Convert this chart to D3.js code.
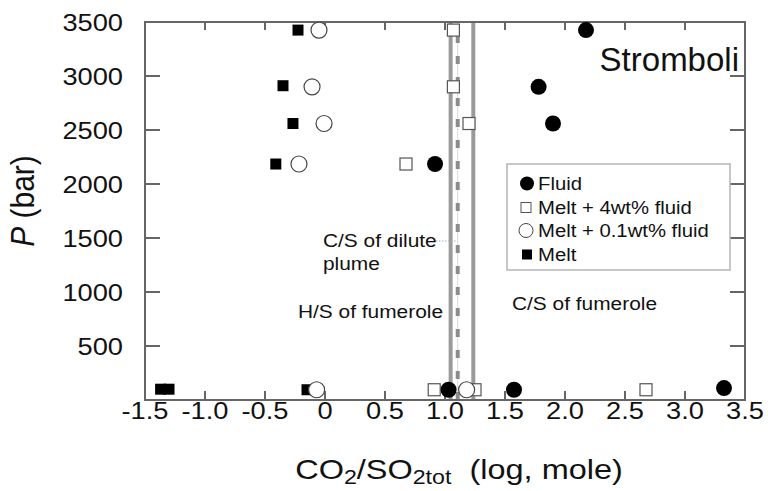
<!DOCTYPE html>
<head>
    <style>
        body { margin: 0; background: #fff; }
        svg { display: block; background: #fff; }
        text { font-family: "Liberation Sans", Arial, sans-serif; fill: #111; }
    </style>
</head>
<body>
    <script src="https://d3js.org/d3.v7.min.js"></script>
    <script>
        // data: log(CO2/SO2tot) vs pressure
        var fluidX  = [2.175, 1.78, 1.9, 0.917, 1.03, 1.575, 3.325];
        var fluidP  = [3425, 2900, 2560, 2185, 95, 95, 110];
        var melt4X  = [1.07, 1.07, 1.2, 0.675, 0.91, 1.25, 2.675];
        var melt4P  = [3425, 2900, 2560, 2185, 95, 95, 95];
        var melt01X = [-0.05, -0.108, -0.008, -0.217, -0.07, 1.18];
        var melt01P = [3425, 2900, 2560, 2185, 95, 95];
        var meltX   = [-0.225, -0.35, -0.267, -0.41, -1.37, -1.30, -0.15];
        var meltP   = [3425, 2910, 2560, 2185, 100, 100, 95];

        var xTicks = [-1.5, -1.0, -0.5, 0, 0.5, 1.0, 1.5, 2.0, 2.5, 3.0, 3.5];
        var xTickLabels = ['-1.5', '-1.0', '-0.5', '0', '0.5', '1.0', '1.5', '2.0', '2.5', '3.0', '3.5'];
        var yTicks = [500, 1000, 1500, 2000, 2500, 3000, 3500];

        // reference lines: H/S fumerole, C/S dilute plume (dashed), C/S fumerole
        var refLines = [1.047, 1.106, 1.236];
        var refDashed = [false, true, false];

        var legendNames = ['Fluid', 'Melt + 4wt% fluid', 'Melt + 0.1wt% fluid', 'Melt'];

        var W = 768, H = 491;
        var x0 = 145, x1 = 745, y0 = 400, y1 = 22;
        var sx = 1.16; // the figure's type is a bit wide

        var svg = d3.select('body').append('svg')
                    .attr('width', W).attr('height', H);

        var x = d3.scaleLinear().domain([-1.5, 3.5]).range([x0, x1]);
        var y = d3.scaleLinear().domain([0, 3500]).range([y0, y1]);

        function label(g, tx, ty, str, size, anchor) {
            return g.append('text')
                    .attr('transform', 'translate(' + tx + ',' + ty + ') scale(' + sx + ',1)')
                    .attr('font-size', size)
                    .attr('text-anchor', anchor || 'start')
                    .text(str);
        }

        // reference lines
        refLines.forEach(function(v, i) {
            if (refDashed[i]) {
                svg.append('line')
                   .attr('x1', x(v)).attr('x2', x(v))
                   .attr('y1', y0).attr('y2', y1)
                   .attr('stroke', '#d8d8d8').attr('stroke-width', 1);
            }
            svg.append('line')
               .attr('x1', x(v)).attr('x2', x(v))
               .attr('y1', y0).attr('y2', y1)
               .attr('stroke', refDashed[i] ? '#8c8c8c' : '#9a9a9a')
               .attr('stroke-width', 4)
               .attr('stroke-dasharray', refDashed[i] ? '8,13' : null);
        });

        // ticks, inside the frame
        var tickCol = '#333';
        svg.selectAll('.xtb').data(xTicks.slice(1, -1)).enter().append('line')
           .attr('x1', d => x(d)).attr('x2', d => x(d))
           .attr('y1', y0).attr('y2', y0 - 9)
           .attr('stroke', tickCol).attr('stroke-width', 1.5);
        svg.selectAll('.xtt').data(xTicks.slice(1, -1)).enter().append('line')
           .attr('x1', d => x(d)).attr('x2', d => x(d))
           .attr('y1', y1).attr('y2', y1 + 8)
           .attr('stroke', tickCol).attr('stroke-width', 1.5);
        svg.selectAll('.ytl').data(yTicks.slice(0, -1)).enter().append('line')
           .attr('x1', x0).attr('x2', x0 + 15)
           .attr('y1', d => y(d)).attr('y2', d => y(d))
           .attr('stroke', tickCol).attr('stroke-width', 1.5);
        svg.selectAll('.ytr').data(yTicks.slice(0, -1)).enter().append('line')
           .attr('x1', x1).attr('x2', x1 - 15)
           .attr('y1', d => y(d)).attr('y2', d => y(d))
           .attr('stroke', tickCol).attr('stroke-width', 1.5);

        // frame
        svg.append('rect')
           .attr('x', x0).attr('y', y1)
           .attr('width', x1 - x0).attr('height', y0 - y1)
           .attr('fill', 'none').attr('stroke', '#666').attr('stroke-width', 2);

        // tick labels
        yTicks.forEach(function(d) {
            label(svg, 123, y(d) + 8.5, d, 23.5, 'end');
        });
        xTicks.forEach(function(d, i) {
            label(svg, x(d), 419, xTickLabels[i], 23.5, 'middle');
        });

        // markers
        var pts = function(xs, ps) { return xs.map((v, i) => ({x: v, p: ps[i]})); };

        svg.selectAll('.melt').data(pts(meltX, meltP)).enter().append('rect')
           .attr('x', d => x(d.x) - 5.5).attr('y', d => y(d.p) - 5.5)
           .attr('width', 11).attr('height', 11)
           .attr('fill', '#000');
        svg.selectAll('.melt4').data(pts(melt4X, melt4P)).enter().append('rect')
           .attr('x', d => x(d.x) - 6).attr('y', d => y(d.p) - 6)
           .attr('width', 12).attr('height', 12)
           .attr('fill', '#fff').attr('stroke', '#555').attr('stroke-width', 1.2);
        svg.selectAll('.fluid').data(pts(fluidX, fluidP)).enter().append('circle')
           .attr('cx', d => x(d.x)).attr('cy', d => y(d.p)).attr('r', 8)
           .attr('fill', '#000');
        svg.selectAll('.melt01').data(pts(melt01X, melt01P)).enter().append('circle')
           .attr('cx', d => x(d.x)).attr('cy', d => y(d.p)).attr('r', 8)
           .attr('fill', '#fff').attr('stroke', '#444').attr('stroke-width', 1.2);

        // annotations
        label(svg, 323, 247, 'C/S of dilute', 18);
        label(svg, 323, 270, 'plume', 18);
        svg.append('line')
           .attr('x1', 436).attr('x2', x(refLines[1]) - 2)
           .attr('y1', 241).attr('y2', 241)
           .attr('stroke', '#aaa').attr('stroke-width', 1)
           .attr('stroke-dasharray', '1.5,1.5');
        label(svg, 298, 318, 'H/S of fumerole', 18);
        label(svg, 512, 310, 'C/S of fumerole', 18);
        svg.append('text')
           .attr('x', 739).attr('y', 71)
           .attr('font-size', 33).attr('text-anchor', 'end')
           .text('Stromboli');

        // legend
        var lg = svg.append('g');
        lg.append('rect')
          .attr('x', 507).attr('y', 164).attr('width', 223).attr('height', 106)
          .attr('fill', '#fff').attr('stroke', '#b5b5b5').attr('stroke-width', 1.5);
        var rows = [190, 214, 237, 261];
        lg.append('circle').attr('cx', 527).attr('cy', rows[0] - 6.5).attr('r', 7).attr('fill', '#000');
        lg.append('rect').attr('x', 521).attr('y', rows[1] - 11.5).attr('width', 10).attr('height', 10)
          .attr('fill', '#fff').attr('stroke', '#555').attr('stroke-width', 1);
        lg.append('circle').attr('cx', 526).attr('cy', rows[2] - 6.5).attr('r', 7)
          .attr('fill', '#fff').attr('stroke', '#444').attr('stroke-width', 1);
        lg.append('rect').attr('x', 522).attr('y', rows[3] - 11.5).attr('width', 10).attr('height', 10)
          .attr('fill', '#000');
        legendNames.forEach(function(n, i) {
            label(lg, 538, rows[i], n, 17.5);
        });

        // axis titles
        var xt = svg.append('text')
                    .attr('transform', 'translate(459,479) scale(' + sx + ',1)')
                    .attr('font-size', 28).attr('text-anchor', 'middle');
        xt.append('tspan').text('CO');
        xt.append('tspan').attr('font-size', 20).attr('dy', 5).text('2');
        xt.append('tspan').attr('dy', -5).text('/SO');
        xt.append('tspan').attr('font-size', 20).attr('dy', 5).text('2tot');
        xt.append('tspan').attr('dy', -5).attr('xml:space', 'preserve').text('  (log, mole)');

        var yt = svg.append('text')
                    .attr('transform', 'translate(34,201) scale(1.1,1) rotate(-90)')
                    .attr('font-size', 30).attr('text-anchor', 'middle');
        yt.append('tspan').attr('font-style', 'italic').text('P');
        yt.append('tspan').text(' (bar)');
    </script>
</body>
